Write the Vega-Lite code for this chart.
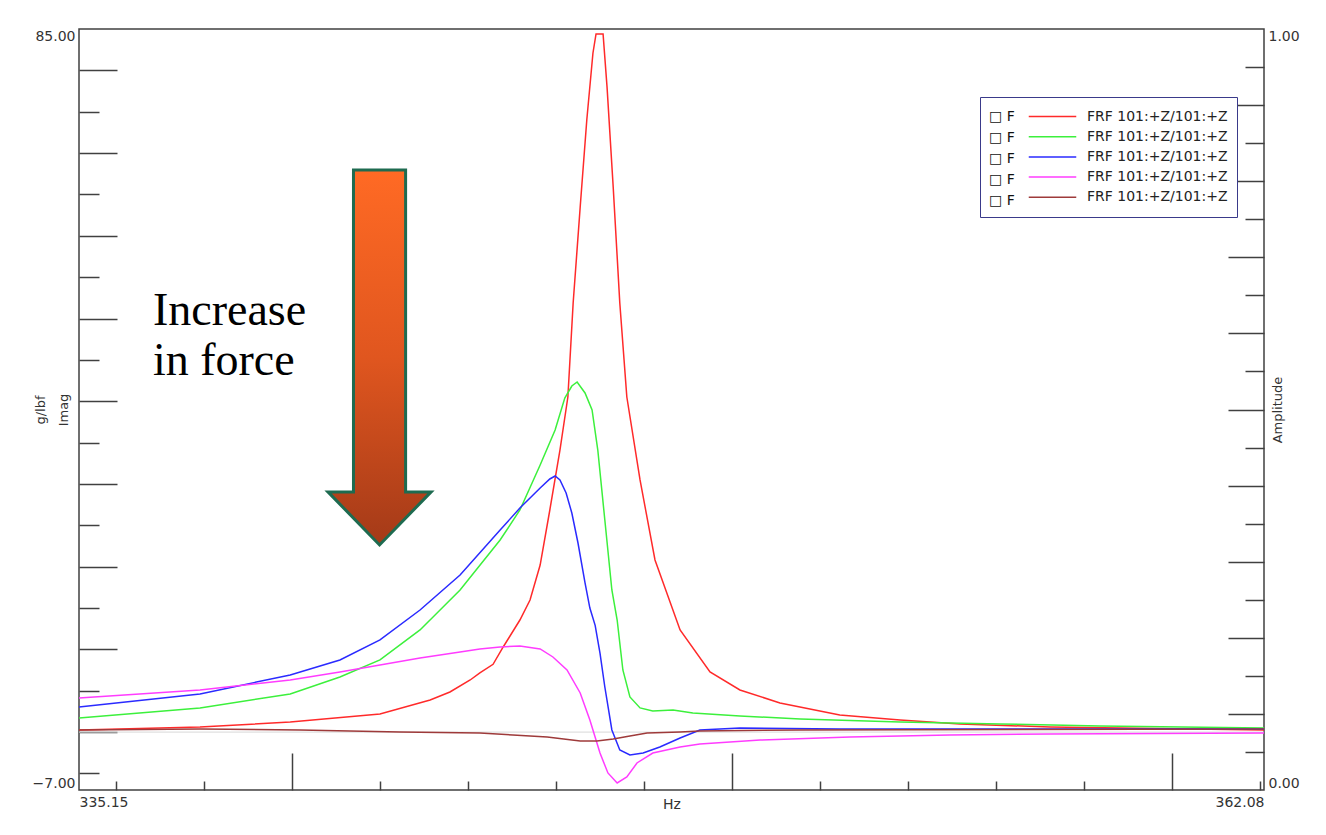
{
  "$schema": "https://vega.github.io/schema/vega-lite/v6.json",
  "width": 1185,
  "height": 761,
  "autosize": {"type": "none"},
  "padding": {"left": 79, "top": 29, "right": 62, "bottom": 45},
  "background": "white",
  "config": {
    "view": {"stroke": "#404040", "strokeWidth": 1.5},
    "font": "DejaVu Sans",
    "axis": {"grid": false, "domain": false, "tickColor": "#404040", "tickWidth": 1.5, "labelFont": "DejaVu Sans", "labelFontSize": 14, "labelColor": "#333", "titleFont": "DejaVu Sans", "titleFontSize": 13, "titleFontWeight": "normal", "titleColor": "#333"}
  },
  "datasets": {
    "curves": [
      {"s": "a", "hz": 335.15, "imag": 0.26}, {"s": "a", "hz": 337.90, "imag": 0.62}, {"s": "a", "hz": 339.95, "imag": 1.22}, {"s": "a", "hz": 341.99, "imag": 2.19}, {"s": "a", "hz": 343.13, "imag": 3.88}, {"s": "a", "hz": 343.58, "imag": 4.85}, {"s": "a", "hz": 344.04, "imag": 6.30}, {"s": "a", "hz": 344.26, "imag": 7.15}, {"s": "a", "hz": 344.56, "imag": 8.2}, {"s": "a", "hz": 344.79, "imag": 10.29}, {"s": "a", "hz": 345.17, "imag": 13.55}, {"s": "a", "hz": 345.40, "imag": 15.97}, {"s": "a", "hz": 345.63, "imag": 20.2}, {"s": "a", "hz": 345.85, "imag": 26.85}, {"s": "a", "hz": 346.08, "imag": 34.1}, {"s": "a", "hz": 346.26, "imag": 40.51}, {"s": "a", "hz": 346.38, "imag": 51.88}, {"s": "a", "hz": 346.54, "imag": 63.48}, {"s": "a", "hz": 346.69, "imag": 74.0}, {"s": "a", "hz": 346.83, "imag": 82.1}, {"s": "a", "hz": 346.90, "imag": 84.4}, {"s": "a", "hz": 347.06, "imag": 84.4}, {"s": "a", "hz": 347.15, "imag": 78.0}, {"s": "a", "hz": 347.29, "imag": 65.9}, {"s": "a", "hz": 347.44, "imag": 51.88}, {"s": "a", "hz": 347.60, "imag": 40.51}, {"s": "a", "hz": 347.90, "imag": 30.48}, {"s": "a", "hz": 348.24, "imag": 20.81}, {"s": "a", "hz": 348.81, "imag": 12.35}, {"s": "a", "hz": 349.49, "imag": 7.27}, {"s": "a", "hz": 350.17, "imag": 5.09}, {"s": "a", "hz": 351.08, "imag": 3.52}, {"s": "a", "hz": 352.44, "imag": 2.07}, {"s": "a", "hz": 353.81, "imag": 1.47}, {"s": "a", "hz": 355.17, "imag": 0.98}, {"s": "a", "hz": 357.22, "imag": 0.62}, {"s": "a", "hz": 362.08, "imag": 0.26},
      {"s": "b", "hz": 335.15, "imag": 1.71}, {"s": "b", "hz": 337.90, "imag": 2.92}, {"s": "b", "hz": 339.95, "imag": 4.61}, {"s": "b", "hz": 341.08, "imag": 6.67}, {"s": "b", "hz": 341.99, "imag": 8.72}, {"s": "b", "hz": 342.90, "imag": 12.35}, {"s": "b", "hz": 343.81, "imag": 17.18}, {"s": "b", "hz": 344.72, "imag": 23.22}, {"s": "b", "hz": 345.17, "imag": 26.85}, {"s": "b", "hz": 345.63, "imag": 32.29}, {"s": "b", "hz": 345.97, "imag": 36.52}, {"s": "b", "hz": 346.19, "imag": 40.39}, {"s": "b", "hz": 346.35, "imag": 41.84}, {"s": "b", "hz": 346.47, "imag": 42.33}, {"s": "b", "hz": 346.65, "imag": 41.0}, {"s": "b", "hz": 346.81, "imag": 38.94}, {"s": "b", "hz": 346.94, "imag": 34.1}, {"s": "b", "hz": 347.10, "imag": 25.64}, {"s": "b", "hz": 347.26, "imag": 17.18}, {"s": "b", "hz": 347.38, "imag": 13.55}, {"s": "b", "hz": 347.51, "imag": 7.51}, {"s": "b", "hz": 347.67, "imag": 4.25}, {"s": "b", "hz": 347.90, "imag": 2.92}, {"s": "b", "hz": 348.19, "imag": 2.55}, {"s": "b", "hz": 348.65, "imag": 2.67}, {"s": "b", "hz": 349.10, "imag": 2.31}, {"s": "b", "hz": 350.17, "imag": 1.95}, {"s": "b", "hz": 351.54, "imag": 1.59}, {"s": "b", "hz": 353.81, "imag": 1.22}, {"s": "b", "hz": 356.08, "imag": 0.98}, {"s": "b", "hz": 358.35, "imag": 0.74}, {"s": "b", "hz": 362.08, "imag": 0.50},
      {"s": "c", "hz": 335.15, "imag": 3.04}, {"s": "c", "hz": 337.90, "imag": 4.61}, {"s": "c", "hz": 339.95, "imag": 6.91}, {"s": "c", "hz": 341.08, "imag": 8.72}, {"s": "c", "hz": 341.99, "imag": 11.14}, {"s": "c", "hz": 342.90, "imag": 14.76}, {"s": "c", "hz": 343.81, "imag": 18.99}, {"s": "c", "hz": 344.72, "imag": 24.43}, {"s": "c", "hz": 345.17, "imag": 27.09}, {"s": "c", "hz": 345.63, "imag": 29.51}, {"s": "c", "hz": 345.85, "imag": 30.60}, {"s": "c", "hz": 345.97, "imag": 30.96}, {"s": "c", "hz": 346.08, "imag": 30.48}, {"s": "c", "hz": 346.22, "imag": 28.91}, {"s": "c", "hz": 346.35, "imag": 26.49}, {"s": "c", "hz": 346.49, "imag": 22.86}, {"s": "c", "hz": 346.65, "imag": 18.03}, {"s": "c", "hz": 346.76, "imag": 15.0}, {"s": "c", "hz": 346.88, "imag": 12.9}, {"s": "c", "hz": 346.99, "imag": 9.56}, {"s": "c", "hz": 347.10, "imag": 5.45}, {"s": "c", "hz": 347.26, "imag": 0.26}, {"s": "c", "hz": 347.44, "imag": -2.16}, {"s": "c", "hz": 347.67, "imag": -2.77}, {"s": "c", "hz": 347.97, "imag": -2.53}, {"s": "c", "hz": 348.35, "imag": -1.80}, {"s": "c", "hz": 348.81, "imag": -0.71}, {"s": "c", "hz": 349.26, "imag": 0.26}, {"s": "c", "hz": 350.17, "imag": 0.50}, {"s": "c", "hz": 352.44, "imag": 0.38}, {"s": "c", "hz": 362.08, "imag": 0.38},
      {"s": "d", "hz": 335.15, "imag": 4.13}, {"s": "d", "hz": 337.90, "imag": 5.09}, {"s": "d", "hz": 339.95, "imag": 6.30}, {"s": "d", "hz": 341.08, "imag": 7.27}, {"s": "d", "hz": 341.99, "imag": 8.11}, {"s": "d", "hz": 342.90, "imag": 8.96}, {"s": "d", "hz": 343.81, "imag": 9.68}, {"s": "d", "hz": 344.26, "imag": 10.05}, {"s": "d", "hz": 344.72, "imag": 10.29}, {"s": "d", "hz": 345.17, "imag": 10.42}, {"s": "d", "hz": 345.63, "imag": 10.05}, {"s": "d", "hz": 345.92, "imag": 9.08}, {"s": "d", "hz": 346.24, "imag": 7.51}, {"s": "d", "hz": 346.54, "imag": 4.73}, {"s": "d", "hz": 346.76, "imag": 1.47}, {"s": "d", "hz": 346.99, "imag": -2.53}, {"s": "d", "hz": 347.17, "imag": -4.94}, {"s": "d", "hz": 347.38, "imag": -6.15}, {"s": "d", "hz": 347.60, "imag": -5.43}, {"s": "d", "hz": 347.83, "imag": -3.73}, {"s": "d", "hz": 348.19, "imag": -2.53}, {"s": "d", "hz": 348.81, "imag": -1.80}, {"s": "d", "hz": 349.26, "imag": -1.44}, {"s": "d", "hz": 350.63, "imag": -0.96}, {"s": "d", "hz": 352.67, "imag": -0.59}, {"s": "d", "hz": 354.94, "imag": -0.35}, {"s": "d", "hz": 357.22, "imag": -0.23}, {"s": "d", "hz": 362.08, "imag": -0.11},
      {"s": "e", "hz": 335.15, "imag": 0.26}, {"s": "e", "hz": 337.90, "imag": 0.38}, {"s": "e", "hz": 340.17, "imag": 0.26}, {"s": "e", "hz": 342.44, "imag": 0.02}, {"s": "e", "hz": 344.26, "imag": -0.11}, {"s": "e", "hz": 345.01, "imag": -0.35}, {"s": "e", "hz": 345.79, "imag": -0.59}, {"s": "e", "hz": 346.54, "imag": -1.07}, {"s": "e", "hz": 346.92, "imag": -1.07}, {"s": "e", "hz": 347.29, "imag": -0.83}, {"s": "e", "hz": 347.67, "imag": -0.47}, {"s": "e", "hz": 348.06, "imag": -0.11}, {"s": "e", "hz": 348.81, "imag": 0.02}, {"s": "e", "hz": 349.26, "imag": 0.14}, {"s": "e", "hz": 351.54, "imag": 0.26}, {"s": "e", "hz": 362.08, "imag": 0.38}
    ],
    "frame": [{"hz": 335.15, "imag": -7, "amp": 0}, {"hz": 362.08, "imag": 85, "amp": 1}],
    "notes": [{"hz": 336.83, "imag": 49.22, "label": "Increase\nin force"}],
    "arrow": [{"hz": 341.98, "imag": 45.29}],
    "zero": [{"imag": 0}]
  },
  "layer": [
    {
      "data": {"name": "zero"},
      "mark": {"type": "rule", "color": "#d8d8d8", "strokeWidth": 1},
      "encoding": {
        "y": {"field": "imag", "type": "quantitative", "scale": {"domain": [-7, 85], "nice": false, "zero": false}, "axis": null}
      }
    },
    {
      "data": {"name": "curves"},
      "mark": {"type": "line", "strokeWidth": 1.5, "interpolate": "linear"},
      "encoding": {
        "x": {"field": "hz", "type": "quantitative", "scale": {"domain": [335.15, 362.08], "nice": false, "zero": false}, "axis": {"orient": "bottom", "values": [340, 350, 360], "tickSize": -37, "labels": false, "title": null}},
        "y": {"field": "imag", "type": "quantitative", "scale": {"domain": [-7, 85], "nice": false, "zero": false}, "axis": {"orient": "left", "values": [0, 10, 20, 30, 40, 50, 60, 70, 80], "tickSize": -38, "labels": false, "title": null}},
        "color": {
          "field": "s", "type": "nominal",
          "scale": {"domain": ["a", "b", "c", "d", "e"], "range": ["#ff2a2a", "#3cf03c", "#2a2aff", "#ff3cff", "#9e3a3a"]},
          "legend": {
            "orient": "none", "legendX": 901, "legendY": 68,
            "title": ["□ F", "□ F", "□ F", "□ F", "□ F"],
            "titleOrient": "left", "titleAnchor": "start", "titleBaseline": "line-top",
            "titleFont": "DejaVu Sans", "titleFontSize": 14, "titleFontWeight": "normal", "titleColor": "#111", "titleLineHeight": 21, "titlePadding": 27,
            "symbolType": "M-2.5,0H2.5", "symbolSize": 361, "symbolStrokeWidth": 1.5,
            "labelExpr": "'FRF 101:+Z/101:+Z'", "labelFont": "DejaVu Sans", "labelFontSize": 14, "labelColor": "#222", "labelOffset": 24, "labelLimit": 300,
            "rowPadding": 2.2,
            "strokeColor": "#3a3a8a", "fillColor": "white", "padding": 9
          }
        }
      }
    },
    {
      "data": {"name": "frame"},
      "mark": {"type": "point", "opacity": 0},
      "encoding": {
        "x": {"field": "hz", "type": "quantitative", "scale": {"domain": [335.15, 362.08], "nice": false, "zero": false}, "axis": {"orient": "bottom", "values": [336, 338, 342, 344, 346, 348, 352, 354, 356, 358, 362], "tickSize": -9, "labels": false, "title": null}},
        "y": {"field": "imag", "type": "quantitative", "scale": {"domain": [-7, 85], "nice": false, "zero": false}, "axis": {"orient": "left", "values": [-5, 5, 15, 25, 35, 45, 55, 65, 75], "tickSize": -20, "labels": false, "title": null}}
      }
    },
    {
      "data": {"name": "frame"},
      "mark": {"type": "point", "opacity": 0},
      "encoding": {
        "x": {"field": "hz", "type": "quantitative", "scale": {"domain": [335.15, 362.08], "nice": false, "zero": false}, "axis": {"orient": "bottom", "values": [335.15, 362.08], "ticks": false, "labelFlush": true, "format": ".2f", "labelPadding": 5, "title": "Hz", "titleFontSize": 14, "titleY": 14, "titleBaseline": "middle"}},
        "y": {"field": "imag", "type": "quantitative", "scale": {"domain": [-7, 85], "nice": false, "zero": false}, "axis": {"orient": "left", "values": [-7, 85], "ticks": false, "labelFlush": true, "labelFlushOffset": 0, "format": ".2f", "labelPadding": 4, "labelOffset": 0, "title": ["g/lbf", "Imag"], "titleAngle": 270, "titleX": -38.5, "titleY": 380.5, "titleAlign": "center", "titleBaseline": "middle", "titleLineHeight": 23}}
      }
    },
    {
      "data": {"name": "frame"},
      "mark": {"type": "point", "opacity": 0},
      "encoding": {
        "y": {"field": "amp", "type": "quantitative", "scale": {"domain": [0, 1], "nice": false, "zero": false}, "axis": {"orient": "right", "values": [0.1, 0.2, 0.3, 0.4, 0.5, 0.6, 0.7, 0.8, 0.9], "tickSize": -36, "labels": false, "title": null}}
      }
    },
    {
      "data": {"name": "frame"},
      "mark": {"type": "point", "opacity": 0},
      "encoding": {
        "y": {"field": "amp", "type": "quantitative", "scale": {"domain": [0, 1], "nice": false, "zero": false}, "axis": {"orient": "right", "values": [0.05, 0.15, 0.25, 0.35, 0.45, 0.55, 0.65, 0.75, 0.85, 0.95], "tickSize": -19, "labels": false, "title": null}}
      }
    },
    {
      "data": {"name": "frame"},
      "mark": {"type": "point", "opacity": 0},
      "encoding": {
        "y": {"field": "amp", "type": "quantitative", "scale": {"domain": [0, 1], "nice": false, "zero": false}, "axis": {"orient": "right", "values": [0, 1], "ticks": false, "labelFlush": true, "format": ".2f", "labelPadding": 4, "title": "Amplitude", "titleAngle": 270, "titleX": 13, "titleY": 380.5, "titleAlign": "center", "titleBaseline": "middle"}}
      }
    },
    {
      "data": {"name": "arrow"},
      "mark": {
        "type": "point",
        "shape": "M-0.139,-1L0.139,-1L0.139,0.717L0.275,0.717L0,1L-0.275,0.717L-0.139,0.717Z",
        "size": 140625, "filled": true, "opacity": 1,
        "fill": {"gradient": "linear", "x1": 0, "y1": 0, "x2": 0, "y2": 1, "stops": [{"offset": 0, "color": "#ff6a24"}, {"offset": 0.5, "color": "#e0561f"}, {"offset": 1, "color": "#a43a18"}]},
        "stroke": "#1e6b50", "strokeWidth": 3
      },
      "encoding": {
        "x": {"field": "hz", "type": "quantitative", "scale": {"domain": [335.15, 362.08], "nice": false, "zero": false}, "axis": null},
        "y": {"field": "imag", "type": "quantitative", "scale": {"domain": [-7, 85], "nice": false, "zero": false}, "axis": null}
      }
    },
    {
      "data": {"name": "notes"},
      "mark": {"type": "text", "font": "Liberation Serif", "fontSize": 46, "align": "left", "baseline": "alphabetic", "lineBreak": "\n", "lineHeight": 50, "color": "#000"},
      "encoding": {
        "x": {"field": "hz", "type": "quantitative", "scale": {"domain": [335.15, 362.08], "nice": false, "zero": false}, "axis": null},
        "y": {"field": "imag", "type": "quantitative", "scale": {"domain": [-7, 85], "nice": false, "zero": false}, "axis": null},
        "text": {"field": "label"}
      }
    }
  ],
  "resolve": {"scale": {"x": "independent", "y": "independent"}, "axis": {"x": "independent", "y": "independent"}}
}
